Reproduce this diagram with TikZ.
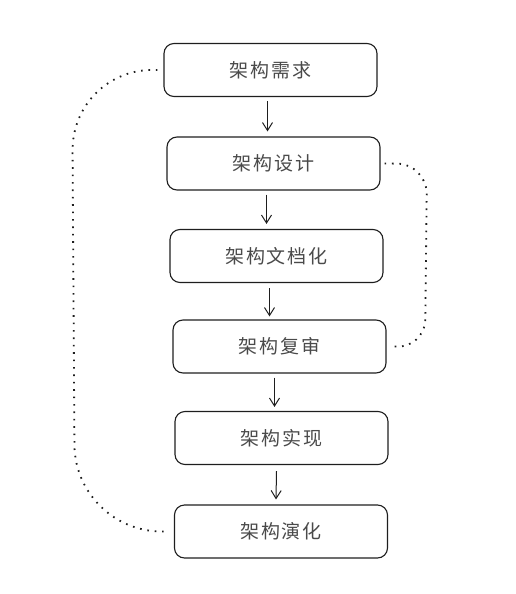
\documentclass[tikz,border=0pt]{standalone}
\usepackage{fontspec}
\newfontfamily\cjk[LetterSpace=10]{Noto Sans CJK SC}
\usepackage{tikz}
\usetikzlibrary{arrows.meta}
\definecolor{ink}{HTML}{1E1E1E}
\definecolor{label}{HTML}{4A4A4A}
\tikzset{
  stage/.style={draw=ink, line width=1.1pt, rounded corners=10pt, minimum width=213pt,
    minimum height=53pt, inner sep=0pt, font=\cjk\fontsize{19}{22}\selectfont, text=label},
  flow/.style={draw=ink, line width=1pt, -{Straight Barb[length=8pt,width=10pt]}},
  loopback/.style={draw=ink, line width=1.8pt, dash pattern=on 1.6pt off 5.8pt}
}

\begin{document}
\begin{tikzpicture}[x=1pt,y=-1pt]
    \useasboundingbox (0,0) rectangle (515,594);
    \node[stage] (need) at (270.5,70) {架构需求};
    \node[stage] (design) at (273.5,163.5) {架构设计};
    \node[stage] (doc) at (276.5,256) {架构文档化};
    \node[stage] (review) at (279.5,346.5) {架构复审};
    \node[stage] (impl) at (281.5,438) {架构实现};
    \node[stage] (evolve) at (281,531.5) {架构演化};
    \draw[flow] ([xshift=-3pt,yshift=-4pt]need.south) -- ([xshift=-6pt,yshift=5pt]design.north);
    \draw[flow] ([xshift=-7pt,yshift=-4pt]design.south) -- ([xshift=-10pt,yshift=5pt]doc.north);
    \draw[flow] ([xshift=-7pt,yshift=-5pt]doc.south) -- ([xshift=-10pt,yshift=3pt]review.north);
    \draw[flow] ([xshift=-5pt,yshift=-4pt]review.south) -- ([xshift=-7pt,yshift=4pt]impl.north);
    \draw[flow] ([xshift=-5pt,yshift=-6pt]impl.south) -- ([xshift=-5pt,yshift=5pt]evolve.north);
    \draw[loopback, rounded corners=85pt] ([xshift=-6pt]need.west) -- (72,66) -- (75,530) -- ([xshift=-10pt]evolve.west);
    \draw[loopback, rounded corners=30pt] ([xshift=4pt]design.east) -- (427,164) -- (425,349) -- ([xshift=8pt]review.east);
\end{tikzpicture}
\end{document}
